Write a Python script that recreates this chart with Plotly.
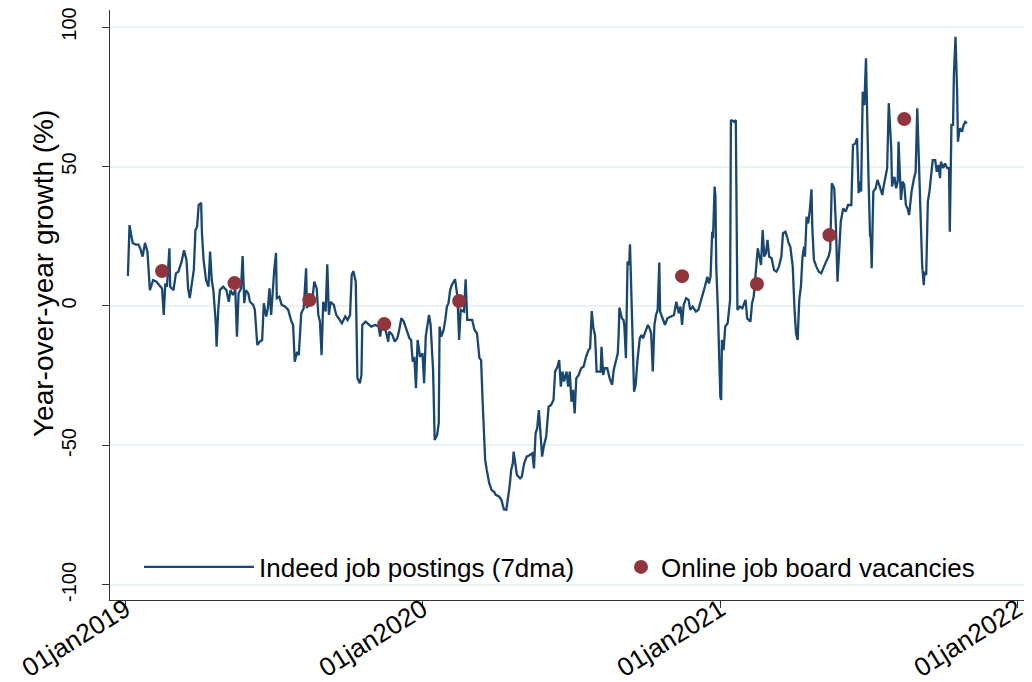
import pandas as pd
import plotly.graph_objects as go

# Indeed job postings (7dma): days since series start, YoY growth (%)
series_start = "2019-01-03"
days = [1, 3, 5, 7, 11, 14, 16, 19, 22, 25, 28, 32, 36, 40, 43, 45, 47, 49, 52, 53,
        57, 60, 63, 67, 70, 73, 75, 77, 80, 82, 84, 86, 88, 91, 92, 94, 97, 100, 102, 104,
        106, 109, 110, 112, 114, 118, 122, 125, 127, 130, 133, 135, 137, 140, 142, 144, 146, 149, 151, 155,
        157, 160, 163, 166, 168, 171, 173, 175, 177, 179, 181, 183, 184, 187, 190, 194, 198, 202, 204, 206,
        209, 211, 214, 217, 220, 221, 224, 227, 230, 233, 235, 237, 239, 241, 244, 246, 248, 250, 254, 257,
        260, 264, 268, 271, 274, 276, 278, 281, 283, 286, 288, 289, 293, 297, 300, 305, 309, 311, 313, 317,
        321, 322, 326, 329, 332, 334, 337, 340, 344, 347, 349, 351, 353, 355, 357, 360, 363, 365, 367, 371,
        373, 376, 378, 381, 383, 384, 386, 389, 391, 393, 395, 397, 399, 403, 406, 408, 410, 414, 416, 418,
        421, 424, 427, 430, 433, 435, 437, 440, 442, 445, 448, 451, 453, 457, 460, 463, 466, 468, 470, 472,
        474, 475, 477, 479, 483, 485, 488, 491, 494, 498, 500, 502, 504, 506, 508, 510, 512, 515, 518, 521,
        524, 526, 529, 531, 533, 535, 537, 540, 542, 544, 546, 548, 550, 552, 555, 558, 561, 564, 567, 569,
        571, 573, 575, 577, 580, 582, 583, 585, 587, 590, 593, 596, 598, 600, 603, 604, 605, 608, 610, 611,
        613, 615, 617, 618, 620, 622, 623, 625, 627, 630, 632, 634, 636, 638, 640, 642, 644, 646, 648, 650,
        652, 654, 655, 658, 661, 664, 668, 672, 675, 678, 680, 682, 684, 687, 690, 692, 695, 699, 702, 705,
        708, 710, 713, 715, 717, 719, 720, 722, 723, 724, 726, 727, 729, 730, 731, 733, 735, 738, 741, 742,
        746, 748, 750, 753, 756, 760, 762, 766, 768, 770, 773, 775, 777, 779, 781, 783, 785, 787, 789, 792,
        795, 798, 801, 804, 806, 809, 811, 813, 815, 818, 820, 822, 824, 826, 828, 830, 832, 833, 835, 837,
        839, 841, 842, 844, 847, 850, 853, 856, 859, 862, 864, 866, 869, 871, 873, 875, 877, 880, 883, 886,
        890, 892, 895, 897, 899, 900, 902, 904, 906, 908, 909, 911, 913, 914, 915, 917, 920, 922, 925, 928,
        930, 932, 934, 936, 938, 939, 940, 943, 945, 947, 948, 950, 951, 953, 955, 957, 959, 961, 964, 967,
        969, 971, 973, 975, 977, 979, 980, 982, 984, 986, 988, 990, 993, 995, 997, 999, 1000, 1003, 1005, 1008,
        1010, 1011, 1013, 1015, 1016, 1018, 1020, 1021, 1023, 1026, 1028, 1030, 1032]
indeed_growth = [10.8, 29, 25.4, 22.5, 22, 22, 20.8, 17.7, 22.6, 19.5, 5.7, 9.3, 8.7, 7.5, 6.3, -3.2, 8.1, 6.9, 20.7, 6.9,
        5.7, 11.7, 12.3, 15.9, 20, 16.5, 6.3, 2.8, 9.3, 12.9, 27.2, 28.4, 36.2, 37, 26, 16.5, 9.3, 6.9, 19.5, 9.3,
        5.7, -6.2, -14.6, -1.4, 5.7, 6.9, 5.7, 1.5, 5.7, 3.9, 5.7, -11, 4.5, 6.3, 17.9, 1, 5.7, 4.5, 1.5, 0.4,
        -1.4, -14, -12.8, -12.2, 1, -3.8, -0.8, 6.3, -3.2, 6.3, 13.5, 19, 2.8, 3.3, 0.4, -0.2, -1.4, -5.6, -6.8, -20,
        -16.4, -17.6, -2.6, -0.8, 13.5, -0.8, 1.5, 0.4, 8.7, 6.3, -3.2, -5.6, -17.6, 1.5, -2, 14.9, -3.2, 1.5, 0.4, -3.2,
        -4.4, -6.2, -3.8, -5, -3.2, 11.1, 12.5, 8.7, -25.9, -27.7, -24.7, -6.8, -5.6, -6.8, -7.4, -6.8, -7.4, -11, -6.8, -8,
        -12.8, -9.2, -10.4, -12.8, -11.6, -9.2, -4.4, -5.6, -9.2, -11.6, -12.2, -20, -18.2, -29.5, -12.2, -18.2, -17, -27.7, -11, -3.2,
        -6.8, -22.9, -48, -46.2, -42, -7.4, -11, -8.6, -5, -0.2, 1, 5.7, 7.5, 9.6, 3.3, -12.2, -1.4, -2, 9.6, -5,
        -5, -5, -8.6, -9.8, -18.7, -19.4, -34.9, -55.2, -58.8, -63.5, -66, -66.6, -67.7, -68.3, -69.5, -72.9, -73.1, -69.5, -64.8, -58.8,
        -56.4, -52.2, -57.6, -60.6, -61.8, -61.2, -56.4, -54, -53.6, -52.8, -58.2, -45.6, -43.8, -37.3, -45.6, -54, -50.4, -46.8, -36.1, -35.5,
        -33.7, -23.5, -21.7, -19.4, -28.9, -23.5, -27.1, -23.5, -28.9, -23.5, -34.3, -30.1, -38.5, -25.9, -24.7, -22.3, -21.7, -18.2, -15.8, -15.2,
        -1.8, -8, -10.4, -23.5, -23.5, -23.5, -14.6, -24.7, -22.3, -22.3, -25.9, -28.3, -22.9, -20, -17, -10.4, -0.6, -4.4, -5, -6.8,
        -18.7, 15.9, 14.7, 22.1, 1.5, -22.3, -30.7, -28.3, -20, -11.6, -10.4, -11.6, -9.8, -8.6, -6.8, -8, -9.8, -23.5, -6.8, -3.2,
        -1.4, 15.6, -2, -4.4, -6.8, -4.4, -3.8, -3.2, 1.5, -2.6, -0.2, -6.8, 0.4, 2.8, 2.2, -1.4, -0.2, -2, -1.4, 1.5,
        5.1, 6.9, 10.5, 8.1, 10.5, 26.6, 24.3, 42.8, 39.2, 14.1, -1.4, -12.2, -32.5, -33.7, -12.2, -15.8, -7.4, -6.2, 2.2, 66.7,
        66, 66.7, -1.4, -0.2, -0.8, 2.2, -4.4, -5.6, 1, 3.3, 12.9, 20.7, 17.7, 14.7, 27.2, 17.7, 18.9, 23.7, 17.7, 17.1,
        12.9, 12.3, 14.1, 17.7, 26.1, 26.6, 24.8, 22.5, 21.3, 14.1, -0.2, -9.8, -12.2, 2.2, 6.9, 17.7, 21.3, 17.7, 32, 29.6,
        34.4, 41.8, 28.4, 16.5, 14.1, 12.3, 11.7, 14.1, 15.9, 17.7, 20.1, 44, 42.2, 29, 8.7, 19.5, 30.2, 35, 33.8, 36.2,
        36.2, 57.7, 58.3, 60.1, 40.4, 44.6, 41, 76.8, 72, 88.8, 72, 47, 25.4, 24.3, 13.5, 41, 42.2, 45.2, 42.8, 39.8,
        43.4, 47, 49.4, 72.7, 58.9, 56.5, 42.8, 46.3, 42.2, 44.6, 58.9, 41, 38, 44.6, 43.4, 36.2, 35, 32.6, 41, 45.8,
        48.1, 70.9, 52.9, 29, 14.7, 7.5, 12.3, 11.1, 37.4, 41, 45.8, 52.3, 52.3, 48.1, 50.5, 45.8, 51.7, 49.4, 51.1, 49.4,
        49.4, 26.6, 64.9, 64.9, 82.8, 96.5, 76.8, 58.9, 63.7, 62.5, 64.9, 66, 65.5]

# Online job board vacancies (quarterly points)
vacancy_dates = ["2019-02-15", "2019-05-15", "2019-08-15", "2019-11-15", "2020-02-15",
                 "2020-11-15", "2021-02-15", "2021-05-15", "2021-08-15"]
vacancy_growth = [12.5, 8.2, 2.1, -6.5, 1.8, 10.7, 7.9, 25.4, 67.0]

tick_dates = ["2019-01-01", "2020-01-01", "2021-01-01", "2022-01-01"]
tick_labels = ["01jan2019", "01jan2020", "01jan2021", "01jan2022"]
y_ticks = [-100, -50, 0, 50, 100]
y_tick_labels = ["-100", "-50", "0", "50", "100"]

dates = pd.Timestamp(series_start) + pd.to_timedelta(days, unit="D")

FONT = "Liberation Sans, Arial, sans-serif"
NAVY = "#1a476f"
MAROON = "#90353b"

fig = go.Figure()
fig.add_trace(go.Scatter(
    x=dates, y=indeed_growth, mode="lines",
    line=dict(color=NAVY, width=2.3),
    name="Indeed job postings (7dma)", legend="legend", showlegend=True,
))
fig.add_trace(go.Scatter(
    x=vacancy_dates, y=vacancy_growth, mode="markers",
    marker=dict(color=MAROON, size=14),
    name="Online job board vacancies", legend="legend2", showlegend=True,
))

# page body has an 8px default margin: lay out in window pixels
OFF = 8
WIN_W, WIN_H = 1032, 682
PL, PR, PT, PB = 110, 1032, 10, 600   # plot area in window pixels
W, H = WIN_W - OFF, WIN_H - OFF
L, T = PL - OFF, PT - OFF
R = W - (PR - OFF)
B = H - (PB - OFF)
pw, ph = W - L - R, H - T - B

def px_x(p):
    return (p - PL) / pw

def px_y(p):
    return (PB - p) / ph

fig.add_shape(type="rect", xref="paper", yref="paper",
              x0=px_x(135), x1=px_x(1010), y0=px_y(597), y1=px_y(545),
              fillcolor="white", line=dict(width=0), layer="between")

fig.add_annotation(
    text="Year-over-year growth (%)", xref="paper", yref="paper",
    x=px_x(43), y=px_y(274), xanchor="center", yanchor="middle",
    textangle=-90, showarrow=False, font=dict(size=28),
)

fig.update_layout(
    width=W, height=H,
    margin=dict(l=L, r=R, t=T, b=B, autoexpand=False),
    paper_bgcolor="white", plot_bgcolor="white",
    font=dict(family=FONT, size=24, color="black"),
    showlegend=True,
    xaxis=dict(
        range=["2018-12-13", "2022-01-19"],
        tickmode="array", tickvals=tick_dates, ticktext=tick_labels,
        tickangle=-32, ticks="outside", ticklen=7, tickcolor="#333",
        showline=True, linecolor="#333", linewidth=1.3,
        showgrid=False, zeroline=False, automargin=False,
        tickfont=dict(size=26), ticklabelstandoff=-24,
        ticklabeloverflow="allow",
    ),
    yaxis=dict(
        range=[-105.4, 106.1],
        tickmode="array", tickvals=y_ticks, ticktext=y_tick_labels,
        tickangle=-90, ticks="outside", ticklen=7, tickcolor="#333",
        showline=True, linecolor="#333", linewidth=1.3,
        showgrid=True, gridcolor="#eaf2f3", gridwidth=2,
        zeroline=False, automargin=False,
        tickfont=dict(size=20), ticklabelstandoff=18,
        ticklabeloverflow="allow",
    ),
    legend=dict(
        x=px_x(139), y=px_y(567), xanchor="left", yanchor="middle",
        bgcolor="rgba(0,0,0,0)", itemwidth=110,
        font=dict(size=26),
    ),
    legend2=dict(
        x=px_x(621), y=px_y(567), xanchor="left", yanchor="middle",
        bgcolor="rgba(0,0,0,0)",
        font=dict(size=26),
    ),
)

fig.write_html("out.html")
